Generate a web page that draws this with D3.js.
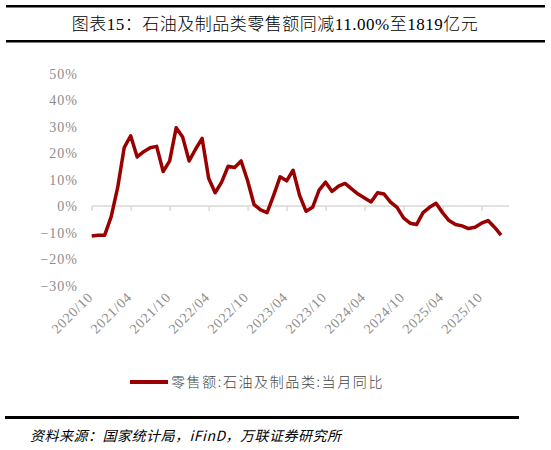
<!DOCTYPE html>
<html><head><meta charset="utf-8">
<script src="https://cdn.jsdelivr.net/npm/d3@7/dist/d3.min.js"></script>
<style>body{margin:0;background:#fff}</style></head>
<body><svg id="c" width="551" height="450"></svg>
<script>
const tickLabels=["2020/10","2021/04","2021/10","2022/04","2022/10","2023/04","2023/10","2024/04","2024/10","2025/04","2025/10"];
const values=[-11.3,-11,-11,-4,7,22,26.5,18.5,20.5,22,22.5,13,17,29.5,26,17,21.5,25.5,10.5,5,9,15,14.5,17,9.5,0.5,-1.5,-2.5,4,11,9.5,13.5,4,-2,-0.5,6,9,5.5,7.5,8.5,6.5,4.5,3,1.5,5,4.5,1.5,-0.5,-4.5,-6.5,-7,-2.5,-0.5,1,-2.5,-5.5,-7,-7.5,-8.5,-8,-6.5,-5.5,-8,-11];
const yTicks=[50,40,30,20,10,0,-10,-20,-30];
const svg=d3.select("#c");
const serif="'Liberation Serif','Noto Sans CJK SC',serif";
const cjk="'Noto Sans CJK SC',sans-serif";
svg.append("rect").attr("x",6).attr("y",5).attr("width",539).attr("height",2.5).attr("fill","#000");
svg.append("rect").attr("x",6).attr("y",40).attr("width",539).attr("height",2.5).attr("fill","#000");
svg.append("text").attr("x",275).attr("y",30).attr("text-anchor","middle").attr("font-family",serif).attr("font-weight",300).attr("font-size",17).attr("letter-spacing",0.5).text("图表15：石油及制品类零售额同减11.00%至1819亿元");
const x=d3.scaleLinear().domain([0,values.length-1]).range([91.7,501]);
const y=d3.scaleLinear().domain([-30,50]).range([285.5,73.5]);
svg.append("g").selectAll("text").data(yTicks).join("text").attr("x",78).attr("y",d=>y(d)+5).attr("text-anchor","end")
 .attr("font-family",serif).attr("font-size",14).attr("letter-spacing",1).attr("fill","#8c8c8c").text(d=>(d<0?"−":"")+Math.abs(d)+"%");
const xa=svg.append("g").attr("transform",`translate(0,${y(0)})`)
 .call(d3.axisBottom(x).tickValues(d3.range(0,61,6)).tickSize(5).tickFormat(()=>""));
xa.selectAll("line,path").attr("stroke","#d9d9d9").attr("stroke-width",1.5);
xa.select("path").attr("d",`M${x(0)},0H${x(values.length-1)+8}`);
svg.append("g").selectAll("text").data(tickLabels).join("text")
 .attr("transform",(d,i)=>`translate(${x(i*6)+2},${298}) rotate(-45)`).attr("text-anchor","end")
 .attr("font-family",serif).attr("font-size",14).attr("letter-spacing",0.8).attr("fill","#8c8c8c").text(d=>d);
svg.append("path").datum(values).attr("fill","none").attr("stroke","#990000").attr("stroke-width",3.5).attr("stroke-linejoin","round")
 .attr("d",d3.line().x((d,i)=>x(i)).y(d=>y(d)));
svg.append("line").attr("x1",130).attr("x2",168).attr("y1",382).attr("y2",382).attr("stroke","#990000").attr("stroke-width",4);
svg.append("text").attr("x",171).attr("y",387).attr("font-family",cjk).attr("font-weight",300).attr("font-size",14).attr("letter-spacing",1.6).attr("fill","#444").text("零售额:石油及制品类:当月同比");
svg.append("rect").attr("x",5).attr("y",416).attr("width",514).attr("height",3).attr("fill","#000");
svg.append("text").attr("x",30).attr("y",441).attr("font-family",cjk).attr("font-style","italic").attr("font-size",14).attr("letter-spacing",0.5).text("资料来源：国家统计局，iFinD，万联证券研究所");
</script></body></html>
